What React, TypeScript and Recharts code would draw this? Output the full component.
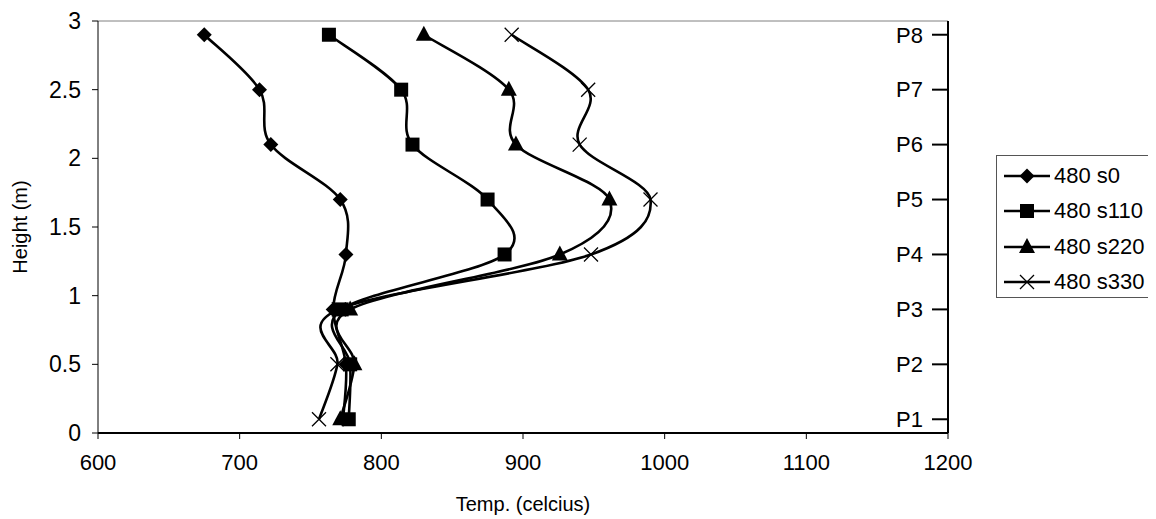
import React from 'react';
import { LineChart, Line, XAxis, YAxis, Legend, ReferenceLine, Label } from 'recharts';

const heights = [0.1, 0.5, 0.9, 1.3, 1.7, 2.1, 2.5, 2.9];
const pLabels = ['P1', 'P2', 'P3', 'P4', 'P5', 'P6', 'P7', 'P8'];
const s0 = [773, 775, 766, 775, 771, 722, 714, 675];
const s110 = [777, 778, 772, 887, 875, 822, 814, 763];
const s220 = [771, 781, 778, 926, 961, 895, 890, 830];
const s330 = [756, 769, 770, 948, 990, 940, 946, 892];
const seriesKeys = ['s0', 's110', 's220', 's330'];
const seriesNames = ['480 s0', '480 s110', '480 s220', '480 s330'];
const markerKinds = ['diamond', 'square', 'triangle', 'cross'];
const xTicks = [600, 700, 800, 900, 1000, 1100, 1200];
const yTicks = [0, 0.5, 1, 1.5, 2, 2.5, 3];

const data = heights.map((h, i) => ({ h, s0: s0[i], s110: s110[i], s220: s220[i], s330: s330[i] }));

const FONT = '"Liberation Sans", Arial, sans-serif';

// excel-like smoothing (catmull-rom through the points)
const smoothCurve = (context: any) => {
  let pts: number[][] = [];
  return {
    areaStart() {},
    areaEnd() {},
    lineStart() {
      pts = [];
    },
    lineEnd() {
      const n = pts.length;
      if (!n) return;
      context.moveTo(pts[0][0], pts[0][1]);
      for (let i = 0; i < n - 1; i++) {
        const p0 = pts[Math.max(i - 1, 0)];
        const p1 = pts[i];
        const p2 = pts[i + 1];
        const p3 = pts[Math.min(i + 2, n - 1)];
        context.bezierCurveTo(
          p1[0] + (p2[0] - p0[0]) / 6,
          p1[1] + (p2[1] - p0[1]) / 6,
          p2[0] - (p3[0] - p1[0]) / 6,
          p2[1] - (p3[1] - p1[1]) / 6,
          p2[0],
          p2[1],
        );
      }
    },
    point(x: number, y: number) {
      pts.push([+x, +y]);
    },
  };
};

const Marker = ({ kind, cx, cy }: { kind: string; cx: number; cy: number }) => {
  if (kind === 'diamond') {
    return <path d={`M${cx},${cy - 7.5}L${cx + 7.5},${cy}L${cx},${cy + 7.5}L${cx - 7.5},${cy}Z`} fill="#000" />;
  }
  if (kind === 'square') {
    return <rect x={cx - 7} y={cy - 7} width={14} height={14} fill="#000" />;
  }
  if (kind === 'triangle') {
    return <path d={`M${cx},${cy - 9}L${cx + 8},${cy + 6}L${cx - 8},${cy + 6}Z`} fill="#000" />;
  }
  return (
    <path
      d={`M${cx - 7},${cy - 7}L${cx + 7},${cy + 7}M${cx + 7},${cy - 7}L${cx - 7},${cy + 7}`}
      stroke="#000"
      strokeWidth={1.3}
      fill="none"
    />
  );
};

const renderDot = (kind: string) => (props: any) => {
  const { cx, cy, index } = props;
  if (cx == null || cy == null) return <g key={`d-${kind}-${index}`} />;
  return (
    <g key={`d-${kind}-${index}`}>
      <Marker kind={kind} cx={cx} cy={cy} />
    </g>
  );
};

const LegendBox = () => (
  <div
    style={{
      border: '1px solid #555',
      borderRight: 'none',
      background: '#fff',
      width: 160,
      height: 143,
      boxSizing: 'border-box',
      paddingTop: 2,
      fontFamily: FONT,
      fontSize: 22,
      color: '#000',
      overflow: 'visible',
    }}
  >
    {seriesNames.map((name, i) => (
      <div key={name} style={{ display: 'flex', alignItems: 'center', height: 35.5 }}>
        <svg width={57} height={30} style={{ display: 'block', flex: 'none' }}>
          <line x1={7} y1={15} x2={53} y2={15} stroke="#000" strokeWidth={2.5} />
          <Marker kind={markerKinds[i]} cx={30} cy={15} />
        </svg>
        <span style={{ whiteSpace: 'nowrap' }}>{name}</span>
      </div>
    ))}
  </div>
);

const xTickStyle = { fontFamily: FONT, fontSize: 22, fill: '#000' };
const yTickStyle = { fontFamily: FONT, fontSize: 23, fill: '#000' };
const pTickStyle = { fontFamily: FONT, fontSize: 22, fill: '#000' };

export default function App() {
  return (
    <LineChart
      width={1148}
      height={511}
      data={data}
      layout="vertical"
      margin={{ top: 13, right: 208, bottom: 46, left: 30 }}
      style={{ fontFamily: FONT }}
    >
      <XAxis
        type="number"
        domain={[600, 1200]}
        ticks={xTicks}
        allowDataOverflow
        height={40}
        stroke="#000"
        strokeWidth={2}
        tickSize={6}
        tickMargin={15}
        tick={xTickStyle}
        tickLine={{ stroke: '#000', strokeWidth: 1 }}
      >
        <Label value="Temp. (celcius)" position="bottom" offset={24} style={{ fontFamily: FONT, fontSize: 20, fill: '#000' }} />
      </XAxis>
      <YAxis
        type="number"
        dataKey="h"
        domain={[0, 3]}
        ticks={yTicks}
        reversed
        allowDataOverflow
        width={60}
        stroke="#000"
        tickSize={6}
        tickMargin={11}
        tick={yTickStyle}
      >
        <Label
          value="Height (m)"
          angle={-90}
          position="left"
          offset={18}
          style={{ fontFamily: FONT, fontSize: 20, fill: '#000', textAnchor: 'middle' }}
        />
      </YAxis>
      <YAxis
        yAxisId="p"
        orientation="right"
        type="number"
        dataKey="h"
        domain={[0, 3]}
        ticks={heights}
        reversed
        mirror
        allowDataOverflow
        width={1}
        stroke="#000"
        strokeWidth={2}
        tickSize={16}
        tickMargin={9}
        tick={pTickStyle}
        tickLine={{ stroke: '#000', strokeWidth: 2 }}
        tickFormatter={(v: number) => pLabels[heights.indexOf(v)] ?? ''}
      />
      <ReferenceLine y={3} stroke="#808080" strokeWidth={1} />
      {seriesKeys.map((key, i) => (
        <Line
          key={key}
          dataKey={key}
          name={seriesNames[i]}
          type={smoothCurve as any}
          stroke="#000"
          strokeWidth={2.6}
          dot={renderDot(markerKinds[i])}
          activeDot={false}
          isAnimationActive={false}
        />
      ))}
      <Legend
        layout="horizontal"
        align="center"
        verticalAlign="middle"
        content={() => <LegendBox />}
        wrapperStyle={{ left: 988, top: 147, width: 160, height: 143 }}
      />
    </LineChart>
  );
}
